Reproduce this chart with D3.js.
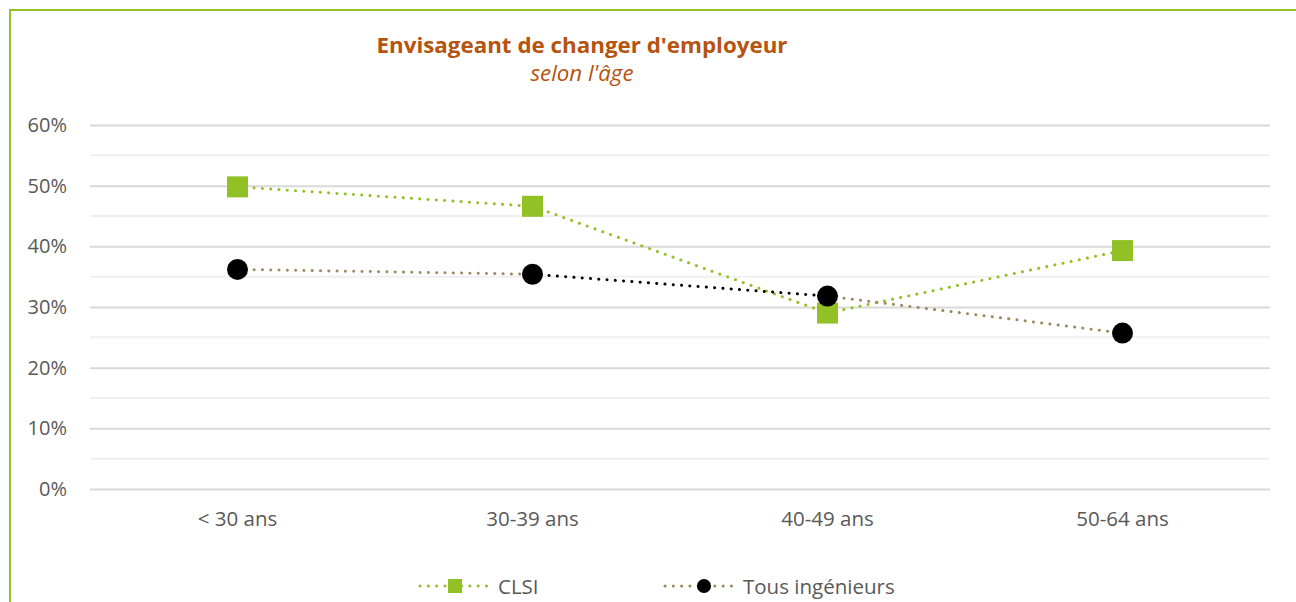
<!DOCTYPE html>
<html>
<head>
<meta charset="utf-8">
<script src="https://cdn.jsdelivr.net/npm/d3@7"></script>
<style>
  body { margin: 0; background: #fff; }
  svg { display: block; font-family: "Open Sans", sans-serif; }
</style>
</head>
<body>
<svg id="chart" width="1296" height="602"></svg>
<script>
// data
var categories = ["< 30 ans", "30-39 ans", "40-49 ans", "50-64 ans"];
var clsi = [0.498, 0.466, 0.290, 0.393];
var tous = [0.362, 0.354, 0.318, 0.257];
var yTicks = [0, 0.1, 0.2, 0.3, 0.4, 0.5, 0.6];
var seriesNames = ["CLSI", "Tous ingénieurs"];

var svg = d3.select("#chart");
var padding = {left: 90, right: 26, top: 125, bottom: 113};
var width = 1296, height = 602;
var font = "'Open Sans', sans-serif";

// frame (green border top and left)
svg.append("path")
    .attr("d", "M10,602 L10,10 L1296,10")
    .attr("fill", "none")
    .attr("stroke", "#92c125")
    .attr("stroke-width", 2);

// title
svg.append("text")
    .attr("x", 582).attr("y", 53)
    .attr("text-anchor", "middle")
    .attr("font-size", 22).attr("font-weight", "bold")
    .attr("textLength", 411).attr("lengthAdjust", "spacingAndGlyphs")
    .attr("fill", "#b5530f")
    .text("Envisageant de changer d'employeur");
svg.append("text")
    .attr("x", 582).attr("y", 81)
    .attr("text-anchor", "middle")
    .attr("font-size", 21).attr("font-style", "italic")
    .attr("textLength", 103).attr("lengthAdjust", "spacingAndGlyphs")
    .attr("fill", "#b5530f")
    .text("selon l'âge");

// scales
var x = d3.scaleBand()
    .domain(categories)
    .range([padding.left, width - padding.right]);
var y = d3.scaleLinear()
    .domain([0, 0.6])
    .range([height - padding.bottom, padding.top]);

// minor gridlines
var minor = d3.range(0.05, 0.6, 0.1);
svg.append("g").selectAll("line")
    .data(minor).enter().append("line")
    .attr("x1", padding.left).attr("x2", width - padding.right)
    .attr("y1", function(d){ return y(d); }).attr("y2", function(d){ return y(d); })
    .attr("stroke", "#f0f0f0").attr("stroke-width", 2);

// y axis (major gridlines)
var y_axis = d3.axisLeft(y)
    .tickValues(yTicks)
    .tickFormat(d3.format(".0%"))
    .tickSize(-(width - padding.left - padding.right))
    .tickPadding(23);
var gy = svg.append("g")
    .attr("transform", "translate(" + padding.left + ",0)")
    .call(y_axis);
gy.select(".domain").remove();
gy.selectAll(".tick line").attr("stroke", "#d9d9d9").attr("stroke-width", 2);
gy.selectAll(".tick text").attr("fill", "#595959").attr("font-size", 20)
    .attr("font-family", font);

// x axis
var x_axis = d3.axisBottom(x).tickSize(0).tickPadding(22);
var gx = svg.append("g")
    .attr("transform", "translate(0," + y(0) + ")")
    .call(x_axis);
gx.select(".domain").remove();
gx.selectAll(".tick text").attr("fill", "#595959").attr("font-size", 20.5)
    .attr("font-family", font);

function cx(i){ return x(categories[i]) + x.bandwidth() / 2; }

// segment colors (Tous ingénieurs has one black segment)
var clsiSeg = ["#92c125", "#92c125", "#92c125"];
var tousSeg = ["#9b8b5f", "#000000", "#9b8b5f"];

function drawSegments(vals, colors){
    var segs = d3.range(vals.length - 1);
    svg.append("g").selectAll("line")
        .data(segs).enter().append("line")
        .attr("x1", function(i){ return cx(i); })
        .attr("y1", function(i){ return y(vals[i]); })
        .attr("x2", function(i){ return cx(i + 1); })
        .attr("y2", function(i){ return y(vals[i + 1]); })
        .attr("stroke", function(i){ return colors[i]; })
        .attr("stroke-width", 3)
        .attr("stroke-linecap", "round")
        .attr("stroke-dasharray", "0.1,8.2");
}
drawSegments(clsi, clsiSeg);
drawSegments(tous, tousSeg);

// markers
svg.append("g").selectAll("rect")
    .data(clsi).enter().append("rect")
    .attr("x", function(d, i){ return cx(i) - 10.5; })
    .attr("y", function(d){ return y(d) - 10.5; })
    .attr("width", 21).attr("height", 21)
    .attr("fill", "#92c125");
svg.append("g").selectAll("circle")
    .data(tous).enter().append("circle")
    .attr("cx", function(d, i){ return cx(i); })
    .attr("cy", function(d){ return y(d); })
    .attr("r", 10.5)
    .attr("fill", "#000");

// legend
var legend = [
    {name: seriesNames[0], x: 420, color: "#92c125", marker: "rect"},
    {name: seriesNames[1], x: 665, color: "#9b8b5f", marker: "circle"}
];
var lg = svg.append("g").selectAll("g")
    .data(legend).enter().append("g")
    .attr("transform", function(d){ return "translate(" + d.x + ",586)"; });
lg.append("line")
    .attr("x1", 0).attr("x2", 68).attr("y1", 0).attr("y2", 0)
    .attr("stroke", function(d){ return d.color; })
    .attr("stroke-width", 3).attr("stroke-linecap", "round")
    .attr("stroke-dasharray", "0.1,8.2");
lg.filter(function(d){ return d.marker === "rect"; }).append("rect")
    .attr("x", 28).attr("y", -7).attr("width", 14).attr("height", 14)
    .attr("fill", "#92c125");
lg.filter(function(d){ return d.marker === "circle"; }).append("circle")
    .attr("cx", 39).attr("cy", 0).attr("r", 7)
    .attr("fill", "#000");
lg.append("text")
    .attr("x", 78).attr("y", 7.5)
    .attr("font-size", 20.5).attr("fill", "#595959")
    .text(function(d){ return d.name; });
</script>
</body>
</html>
